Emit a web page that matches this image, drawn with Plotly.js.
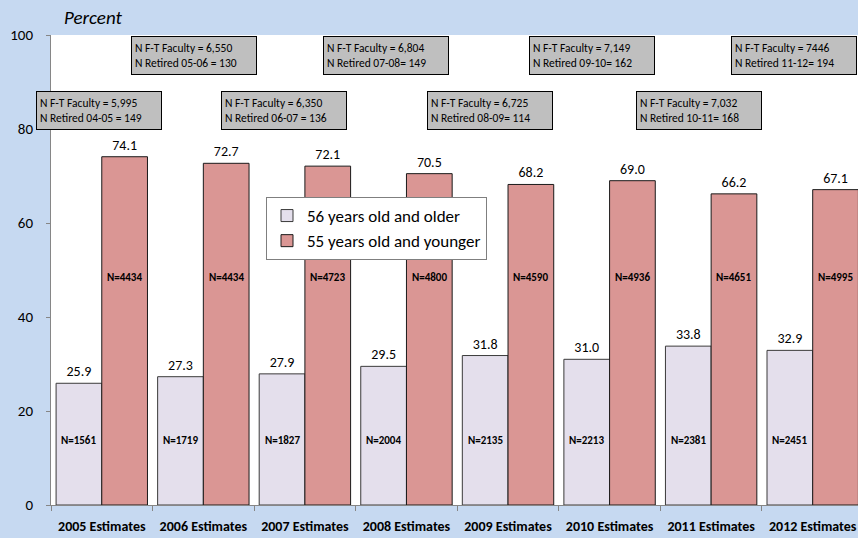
<!DOCTYPE html>
<html>
<head>
<meta charset="utf-8">
<script src="https://cdn.plot.ly/plotly-3.0.1.min.js"></script>
<style>
  html, body { margin: 0; padding: 0; overflow: hidden; background: #c6d9f1; }
  #chart { width: 858px; height: 538px; }
</style>
</head>
<body>
<div id="chart"></div>
<script>
// ---- Data ----
var categories = ['2005 Estimates', '2006 Estimates', '2007 Estimates', '2008 Estimates',
                  '2009 Estimates', '2010 Estimates', '2011 Estimates', '2012 Estimates'];
var olderPct   = [25.9, 27.3, 27.9, 29.5, 31.8, 31.0, 33.8, 32.9];
var youngerPct = [74.1, 72.7, 72.1, 70.5, 68.2, 69.0, 66.2, 67.1];
var olderN     = [1561, 1719, 1827, 2004, 2135, 2213, 2381, 2451];
var youngerN   = [4434, 4434, 4723, 4800, 4590, 4936, 4651, 4995];
var facultyLines = ['N F-T Faculty = 5,995', 'N F-T Faculty = 6,550', 'N F-T Faculty = 6,350',
                    'N F-T Faculty = 6,804', 'N F-T Faculty = 6,725', 'N F-T Faculty = 7,149',
                    'N F-T Faculty = 7,032', 'N F-T Faculty = 7446'];
var retiredLines = ['N Retired 04-05 = 149', 'N Retired 05-06 = 130', 'N Retired 06-07 = 136',
                    'N Retired 07-08= 149', 'N Retired 08-09= 114', 'N Retired 09-10= 162',
                    'N Retired 10-11= 168', 'N Retired 11-12= 194'];
var seriesNames = ['56 years old and older', '55 years old and younger'];
var yTicks = [0, 20, 40, 60, 80, 100];

// ---- Layout helpers (positions/styles) ----
var FONT = 'Carlito, Calibri, Lato, sans-serif';
var plotL = 51, plotR = 858, plotT = 35, plotB = 505;
var plotW = plotR - plotL;
// pixel centers of the faculty boxes (layout only)
var boxCentersPx = [99, 193.5, 284, 386, 490, 591.5, 698.5, 793.5];
var boxRowY = [83.9, 95.6]; // lower row, upper row (in y-axis units)

var traces = [
  {
    type: 'bar', name: seriesNames[0], x: categories, y: olderPct,
    marker: { color: '#e4dfec', line: { color: '#3a3a3a', width: 1 } },
    texttemplate: '%{y:.1f}', textposition: 'outside', cliponaxis: false,
    textfont: { family: FONT, size: 14, color: '#000' },
    hoverinfo: 'skip'
  },
  {
    type: 'bar', name: seriesNames[1], x: categories, y: youngerPct,
    marker: { color: '#da9694', line: { color: '#1a1a1a', width: 1 } },
    texttemplate: '%{y:.1f}', textposition: 'outside', cliponaxis: false,
    textfont: { family: FONT, size: 14, color: '#000' },
    hoverinfo: 'skip'
  }
];

var annotations = [];
// N labels inside bars
categories.forEach(function (c, i) {
  annotations.push({
    x: c, y: 13.8, xref: 'x', yref: 'y', xshift: -22.8,
    text: '<b>N=' + olderN[i] + '</b>', showarrow: false,
    font: { family: FONT, size: 11, color: '#000' }
  });
  annotations.push({
    x: c, y: 48.3, xref: 'x', yref: 'y', xshift: 22.8,
    text: '<b>N=' + youngerN[i] + '</b>', showarrow: false,
    font: { family: FONT, size: 11, color: '#000' }
  });
});
// Faculty / retired boxes
facultyLines.forEach(function (t, i) {
  annotations.push({
    x: (boxCentersPx[i] - plotL) / plotW, xref: 'paper', xanchor: 'center',
    y: boxRowY[i % 2 === 0 ? 0 : 1], yref: 'y', yanchor: 'middle',
    text: t + '<br>' + retiredLines[i], showarrow: false,
    align: 'left', valign: 'middle',
    width: 118, height: 31, borderpad: 3,
    bgcolor: '#bfbfbf', bordercolor: '#000', borderwidth: 1,
    font: { family: FONT, size: 11.5, color: '#000' }
  });
});
// "Percent" label
annotations.push({
  x: (62 - plotL) / plotW, xref: 'paper', xanchor: 'left',
  y: (plotB - 17) / (plotB - plotT), yref: 'paper', yanchor: 'middle',
  text: '<i>Percent</i>', showarrow: false,
  font: { family: FONT, size: 19, color: '#000' }
});

var layout = {
  width: 858, height: 538,
  margin: { l: plotL, r: 0, t: plotT, b: 538 - plotB, pad: 0 },
  paper_bgcolor: '#c6d9f1',
  plot_bgcolor: '#ffffff',
  barmode: 'group', bargap: 0.1, bargroupgap: 0,
  showlegend: true,
  legend: {
    x: (266 - plotL) / plotW, xanchor: 'left',
    y: (plotB - 197) / (plotB - plotT), yanchor: 'top',
    bgcolor: '#ffffff', bordercolor: '#7f7f7f', borderwidth: 1,
    font: { family: FONT, size: 17, color: '#000' },
    tracegroupgap: 0, itemwidth: 30
  },
  xaxis: {
    type: 'category', range: [-0.5, -0.5 + plotW / 101.56],
    showline: true, linecolor: '#868686', linewidth: 1,
    ticks: 'outside', ticklen: 5, tickcolor: '#868686', tickson: 'boundaries',
    ticklabelstandoff: 8,
    tickfont: { family: FONT, size: 14, color: '#000', weight: 'bold' },
    showgrid: false, zeroline: false, fixedrange: true
  },
  yaxis: {
    range: [0, 100], tickvals: yTicks, ticktext: yTicks.map(String),
    showline: true, linecolor: '#868686', linewidth: 1,
    ticks: 'outside', ticklen: 4, tickcolor: '#868686',
    ticklabelstandoff: 10,
    tickfont: { family: FONT, size: 15, color: '#000' },
    showgrid: false, zeroline: false, fixedrange: true
  },
  annotations: annotations
};

Plotly.newPlot('chart', traces, layout, { staticPlot: true, displayModeBar: false });
</script>
</body>
</html>
